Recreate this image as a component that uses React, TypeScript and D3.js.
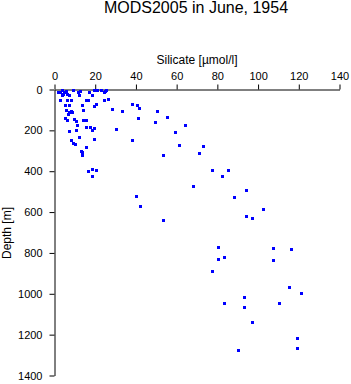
import React, { useEffect, useRef } from "react";
import * as d3 from "d3";

const silicate = [
  1.8, 2.8, 3.5, 4.5, 5.5, 6.0, 4.0, 9.2, 11.5, 12.4, 17.0, 19.3, 21.0, 22.6, 24.6, 25.2, 24.2,
  3.9, 6.9, 12.1, 18.3,
  2.9, 5.9, 8.2, 15.4, 16.4, 24.2, 26.2,
  5.2, 7.2, 13.4, 19.3, 20.3,
  5.6, 7.9, 14.1, 28.1, 6.5, 7.0, 8.5,
  5.9, 9.5, 10.5, 13.8, 15.4, 5.0,
  11.1, 15.4, 17.3, 19.3, 18.3,
  7.2, 10.5, 12.1, 8.2, 19.3, 9.2, 10.2,
  15.4, 13.1, 13.4, 13.4, 16.4, 18.3, 20.3, 18.3,
  26.2, 24.2, 33.1, 38.2, 40.3, 41.3, 50.2, 41.1, 55.2, 49.3, 30.1, 64.0, 59.1, 38.0,
  61.0, 73.0, 53.2, 71.2, 77.3, 85.1, 82.2, 68.1, 40.1, 42.2, 53.2,
  94.0, 88.1, 102.2, 94.0, 96.9,
  80.2, 107.2, 116.1, 83.2, 80.2, 107.1, 77.3,
  115.1, 121.0, 93.0, 83.2, 93.0, 110.2, 96.9, 119.0, 119.0, 90.0,
];

const depth = [
  10, 12, 4, 14, 6, 20, 24, 3, 10, 7, 10, 2, 2, 3, 6, 1.5, 11,
  29, 29, 29, 29,
  52, 52, 52, 52, 52, 52, 46,
  75, 78, 78, 82, 72,
  98, 104, 101, 94, 121, 110, 112,
  150, 143, 153, 150, 147, 140,
  173, 183, 186, 189, 199,
  202, 199, 232, 248, 241, 261, 268,
  280, 300, 308, 320, 401, 388, 392, 421,
  46, 52, 106, 70, 77, 92, 104, 139, 134, 158, 194, 176, 207, 245,
  273, 276, 322, 312, 395, 396, 421, 471, 520, 569, 640,
  491, 525, 587, 617, 628,
  770, 777, 780, 819, 829, 837, 889,
  968, 994, 1018, 1047, 1067, 1046, 1137, 1215, 1264, 1276,
];

const xTicks = [0, 20, 40, 60, 80, 100, 120, 140];
const yTicks = [0, 200, 400, 600, 800, 1000, 1200, 1400];

const FONT = "'Liberation Sans', Arial, Helvetica, sans-serif";

export default function App() {
  const ref = useRef<SVGSVGElement | null>(null);

  useEffect(() => {
    const svg = d3.select(ref.current);
    svg.selectAll("*").remove();

    const x = d3.scaleLinear().domain([0, 140]).range([54.5, 339.5]);
    const y = d3.scaleLinear().domain([0, 1400]).range([89.5, 375.5]);

    svg
      .append("text")
      .attr("x", 196)
      .attr("y", 13)
      .attr("text-anchor", "middle")
      .attr("font-family", FONT)
      .attr("font-size", 16)
      .text("MODS2005 in June, 1954");

    svg
      .append("text")
      .attr("x", 197)
      .attr("y", 64)
      .attr("text-anchor", "middle")
      .attr("font-family", FONT)
      .attr("font-size", 12)
      .text("Silicate [µmol/l]");

    svg
      .append("text")
      .attr("transform", "translate(11,233) rotate(-90)")
      .attr("text-anchor", "middle")
      .attr("font-family", FONT)
      .attr("font-size", 12)
      .text("Depth [m]");

    const gx = svg
      .append("g")
      .attr("transform", "translate(0,89.5)")
      .call(
        d3
          .axisTop(x)
          .tickValues(xTicks)
          .tickSize(5)
          .tickSizeOuter(0)
          .tickPadding(5)
          .tickFormat(d3.format("d"))
      );
    gx.selectAll("text").attr("font-family", FONT).attr("font-size", 11).attr("fill", "#000");

    const gy = svg
      .append("g")
      .attr("transform", "translate(54.5,0)")
      .call(
        d3
          .axisLeft(y)
          .tickValues(yTicks)
          .tickSize(5)
          .tickSizeOuter(0)
          .tickPadding(7)
          .tickFormat(d3.format("d"))
      );
    gy.selectAll("text").attr("font-family", FONT).attr("font-size", 11).attr("fill", "#000");

    const pts = silicate.map((v, i) => [v, depth[i]] as [number, number]);
    svg
      .append("g")
      .selectAll("rect")
      .data(pts)
      .join("rect")
      .attr("x", (d) => Math.round(x(d[0])) - 1.5)
      .attr("y", (d) => Math.round(y(d[1])) - 1.5)
      .attr("width", 3)
      .attr("height", 3)
      .attr("fill", "#0000ff")
      .attr("shape-rendering", "crispEdges");
  }, []);

  return (
    <svg
      ref={ref}
      width={351}
      height={384}
      style={{ position: "absolute", left: 0, top: 0, background: "#fff" }}
    />
  );
}
